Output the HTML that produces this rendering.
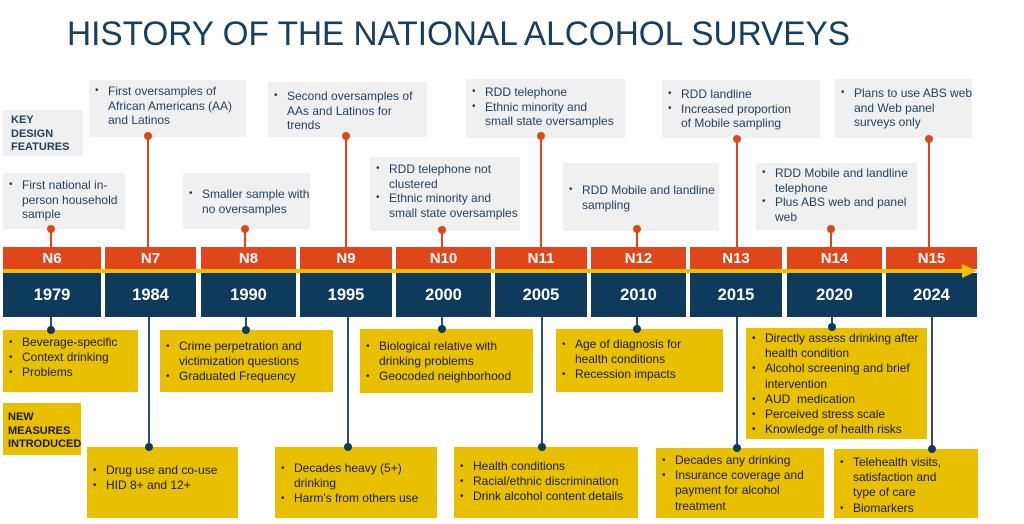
<!DOCTYPE html>
<html><head><meta charset="utf-8"><style>
*{margin:0;padding:0;box-sizing:border-box}
body{width:1024px;height:524px;background:#fff;position:relative;overflow:hidden;font-family:"Liberation Sans",sans-serif}
.a{position:absolute}
.g{position:absolute;background:#f0f0f0;color:#1d3f5e;font-size:12px;line-height:14.6px;white-space:nowrap}
.y{position:absolute;background:#e8c000;color:#1a1a1a;font-size:12px;line-height:15.2px;white-space:nowrap}
ul{list-style:none}
li{position:relative;padding-left:19px}
li:before{content:"•";position:absolute;left:6px;font-size:10px}
.o{position:absolute;top:247px;height:22px;background:#e0461a;color:#fff;font-weight:bold;font-size:15px;text-align:center;line-height:23px}
.b{position:absolute;top:273px;height:44px;background:#0e3a5c;color:#fff;font-weight:bold;font-size:16.5px;text-align:center;line-height:44px}
.lo{position:absolute;width:2px;background:#e0461a}
.lb{position:absolute;width:2px;background:#2c4f6e}
.do{position:absolute;width:8px;height:8px;border-radius:50%;background:#e0461a;z-index:3}
.db{position:absolute;width:8px;height:8px;border-radius:50%;background:#0e3a5c;z-index:3}
.h{font-weight:bold;font-size:11px;line-height:13.5px}
</style></head><body>
<svg class="a" style="left:0;top:0" width="1024" height="60"><text x="67" y="45" font-family="Liberation Sans" font-size="34" fill="#173f62" textLength="783" lengthAdjust="spacingAndGlyphs">HISTORY OF THE NATIONAL ALCOHOL SURVEYS</text></svg>

<!-- top gray boxes -->
<div class="g h" style="left:3px;top:110px;width:80px;height:46px;padding:4px 0 0 8px;color:#1d3f5e">KEY<br>DESIGN<br>FEATURES</div>
<div class="g" style="left:3px;top:173px;width:122px;height:56px;padding-top:5px"><ul><li>First national in-<br>person household<br>sample</li></ul></div>
<div class="g" style="left:89px;top:80px;width:157px;height:57px;padding-top:4px"><ul><li>First oversamples of<br>African Americans (AA)<br>and Latinos</li></ul></div>
<div class="g" style="left:183px;top:173px;width:127px;height:56px;padding-top:14px"><ul><li>Smaller sample with<br>no oversamples</li></ul></div>
<div class="g" style="left:268px;top:82px;width:159px;height:55px;padding-top:7px"><ul><li>Second oversamples of<br>AAs and Latinos for<br>trends</li></ul></div>
<div class="g" style="left:370px;top:157px;width:150px;height:74px;padding-top:5px"><ul><li>RDD telephone not<br>clustered</li><li>Ethnic minority and<br>small state oversamples</li></ul></div>
<div class="g" style="left:466px;top:79px;width:159px;height:59px;padding-top:6px"><ul><li>RDD telephone</li><li>Ethnic minority and<br>small state oversamples</li></ul></div>
<div class="g" style="left:563px;top:163px;width:156px;height:68px;padding-top:20px"><ul><li>RDD Mobile and landline<br>sampling</li></ul></div>
<div class="g" style="left:662px;top:80px;width:158px;height:58px;padding-top:7px"><ul><li>RDD landline</li><li>Increased proportion<br>of Mobile sampling</li></ul></div>
<div class="g" style="left:756px;top:163px;width:161px;height:67px;padding-top:3px"><ul><li>RDD Mobile and landline<br>telephone</li><li>Plus ABS web and panel<br>web</li></ul></div>
<div class="g" style="left:835px;top:79px;width:137px;height:59px;padding-top:7px"><ul><li>Plans to use ABS web<br>and Web panel<br>surveys only</li></ul></div>

<!-- connectors top -->
<div class="lo" style="left:50px;top:229px;height:18px"></div><div class="do" style="left:47px;top:225px"></div>
<div class="lo" style="left:147px;top:136px;height:111px"></div><div class="do" style="left:144px;top:132px"></div>
<div class="lo" style="left:244px;top:229px;height:18px"></div><div class="do" style="left:241px;top:225px"></div>
<div class="lo" style="left:345px;top:136px;height:111px"></div><div class="do" style="left:342px;top:132px"></div>
<div class="lo" style="left:441px;top:230px;height:17px"></div><div class="do" style="left:438px;top:226px"></div>
<div class="lo" style="left:540px;top:136px;height:111px"></div><div class="do" style="left:537px;top:132px"></div>
<div class="lo" style="left:636px;top:229px;height:18px"></div><div class="do" style="left:633px;top:225px"></div>
<div class="lo" style="left:736px;top:139px;height:108px"></div><div class="do" style="left:733px;top:135px"></div>
<div class="lo" style="left:830px;top:229px;height:18px"></div><div class="do" style="left:827px;top:225px"></div>
<div class="lo" style="left:928px;top:139px;height:108px"></div><div class="do" style="left:925px;top:135px"></div>

<!-- timeline -->
<div class="o" style="left:3px;width:98px">N6</div><div class="b" style="left:3px;width:98px">1979</div>
<div class="o" style="left:105px;width:91px">N7</div><div class="b" style="left:105px;width:91px">1984</div>
<div class="o" style="left:201px;width:95px">N8</div><div class="b" style="left:201px;width:95px">1990</div>
<div class="o" style="left:300px;width:92px">N9</div><div class="b" style="left:300px;width:92px">1995</div>
<div class="o" style="left:396px;width:95px">N10</div><div class="b" style="left:396px;width:95px">2000</div>
<div class="o" style="left:495px;width:92px">N11</div><div class="b" style="left:495px;width:92px">2005</div>
<div class="o" style="left:591px;width:95px">N12</div><div class="b" style="left:591px;width:95px">2010</div>
<div class="o" style="left:690px;width:92px">N13</div><div class="b" style="left:690px;width:92px">2015</div>
<div class="o" style="left:787px;width:95px">N14</div><div class="b" style="left:787px;width:95px">2020</div>
<div class="o" style="left:886px;width:91px">N15</div><div class="b" style="left:886px;width:91px">2024</div>
<div class="a" style="left:3px;top:269px;width:962px;height:4px;background:#efbf00"></div>
<svg class="a" style="left:962px;top:264px" width="16" height="14"><polygon points="0,0 15,7 0,14" fill="#efbf00"/></svg>

<!-- connectors bottom -->
<div class="lb" style="left:50px;top:317px;height:13px"></div><div class="db" style="left:47px;top:326px"></div>
<div class="lb" style="left:148px;top:317px;height:130px"></div><div class="db" style="left:145px;top:443px"></div>
<div class="lb" style="left:245px;top:317px;height:13px"></div><div class="db" style="left:242px;top:326px"></div>
<div class="lb" style="left:347px;top:317px;height:130px"></div><div class="db" style="left:344px;top:443px"></div>
<div class="lb" style="left:441px;top:317px;height:12px"></div><div class="db" style="left:438px;top:325px"></div>
<div class="lb" style="left:541px;top:317px;height:130px"></div><div class="db" style="left:538px;top:443px"></div>
<div class="lb" style="left:636px;top:317px;height:12px"></div><div class="db" style="left:633px;top:325px"></div>
<div class="lb" style="left:736px;top:317px;height:131px"></div><div class="db" style="left:733px;top:444px"></div>
<div class="lb" style="left:831px;top:317px;height:10px"></div><div class="db" style="left:828px;top:323px"></div>
<div class="lb" style="left:931px;top:317px;height:132px"></div><div class="db" style="left:928px;top:445px"></div>

<!-- bottom yellow boxes -->
<div class="y" style="left:3px;top:330px;width:135px;height:62px;padding-top:5px"><ul><li>Beverage-specific</li><li>Context drinking</li><li>Problems</li></ul></div>
<div class="y h" style="left:3px;top:403px;width:78px;height:52px;padding:8px 0 0 5px;color:#1a1a1a">NEW<br>MEASURES<br>INTRODUCED</div>
<div class="y" style="left:87px;top:447px;width:151px;height:71px;padding-top:16px"><ul><li>Drug use and co-use</li><li>HID 8+ and 12+</li></ul></div>
<div class="y" style="left:160px;top:330px;width:173px;height:62px;padding-top:9px"><ul><li>Crime perpetration and<br>victimization questions</li><li>Graduated Frequency</li></ul></div>
<div class="y" style="left:275px;top:447px;width:162px;height:71px;padding-top:14px"><ul><li>Decades heavy (5+)<br>drinking</li><li>Harm's from others use</li></ul></div>
<div class="y" style="left:360px;top:329px;width:173px;height:64px;padding-top:10px"><ul><li>Biological relative with<br>drinking problems</li><li>Geocoded neighborhood</li></ul></div>
<div class="y" style="left:454px;top:447px;width:184px;height:71px;padding-top:12px"><ul><li>Health conditions</li><li>Racial/ethnic discrimination</li><li>Drink alcohol content details</li></ul></div>
<div class="y" style="left:556px;top:329px;width:167px;height:63px;padding-top:8px"><ul><li>Age of diagnosis for<br>health conditions</li><li>Recession impacts</li></ul></div>
<div class="y" style="left:656px;top:448px;width:168px;height:70px;padding-top:5px"><ul><li>Decades any drinking</li><li>Insurance coverage and<br>payment for alcohol<br>treatment</li></ul></div>
<div class="y" style="left:746px;top:328px;width:181px;height:111px;padding-top:3px"><ul><li>Directly assess drinking after<br>health condition</li><li>Alcohol screening and brief<br>intervention</li><li>AUD&nbsp; medication</li><li>Perceived stress scale</li><li>Knowledge of health risks</li></ul></div>
<div class="y" style="left:834px;top:449px;width:144px;height:69px;padding-top:6px"><ul><li>Telehealth visits,<br>satisfaction and<br>type of care</li><li>Biomarkers</li></ul></div>
</body></html>
